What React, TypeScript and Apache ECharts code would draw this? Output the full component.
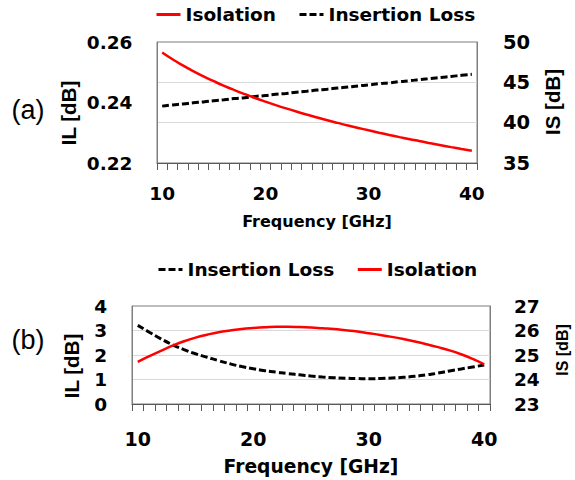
import React, { useEffect, useRef } from "react";
import * as echarts from "echarts";

const frequencies = [
  "10", "11", "12", "13", "14", "15", "16", "17", "18", "19", "20",
  "21", "22", "23", "24", "25", "26", "27", "28", "29", "30",
  "31", "32", "33", "34", "35", "36", "37", "38", "39", "40",
];
const xTickLabels = ["10", "20", "30", "40"];

// (a) Isolation [dB], right axis
const isolationA = [
  48.7, 47.86, 47.1, 46.39, 45.74, 45.14, 44.57, 44.04, 43.54, 43.06, 42.61,
  42.18, 41.77, 41.38, 41.01, 40.65, 40.3, 39.97, 39.65, 39.35, 39.05,
  38.76, 38.48, 38.21, 37.95, 37.69, 37.45, 37.21, 36.97, 36.74, 36.52,
];
// (a) Insertion loss [dB], left axis
const insertionLossA = [
  0.2388, 0.2392, 0.2395, 0.2399, 0.2402, 0.2406, 0.2409, 0.2413, 0.2416, 0.242, 0.2423,
  0.2427, 0.243, 0.2434, 0.2437, 0.2441, 0.2444, 0.2448, 0.2451, 0.2455, 0.2458,
  0.2462, 0.2465, 0.2469, 0.2472, 0.2476, 0.2479, 0.2483, 0.2486, 0.249, 0.2493,
];
// (b) Insertion loss [dB], left axis
const insertionLossB = [
  3.21, 2.93, 2.66, 2.42, 2.22, 2.05, 1.91, 1.77, 1.64, 1.53, 1.44,
  1.36, 1.3, 1.24, 1.19, 1.14, 1.1, 1.07, 1.05, 1.04, 1.03,
  1.04, 1.06, 1.09, 1.13, 1.19, 1.26, 1.35, 1.43, 1.51, 1.59,
];
// (b) Isolation [dB], right axis
const isolationB = [
  24.72, 24.95, 25.17, 25.38, 25.56, 25.71, 25.83, 25.93, 26.0, 26.06, 26.1,
  26.13, 26.15, 26.15, 26.14, 26.12, 26.09, 26.06, 26.01, 25.96, 25.89,
  25.82, 25.74, 25.65, 25.55, 25.44, 25.32, 25.19, 25.03, 24.84, 24.62,
];

const FONT = "DejaVu Sans";
const NAME_FONT = "Liberation Sans";
const AXIS_COLOR = "#7f7f7f";
const TICK_COLOR = "#595959";
const GRID_COLOR = "#d9d9d9";

export default function App() {
  const ref = useRef<HTMLDivElement>(null);

  useEffect(() => {
    if (!ref.current) return;
    const chart = echarts.init(ref.current, null, { renderer: "svg" });

    const labelStyle = (size: number, margin: number) => ({
      fontFamily: FONT,
      fontWeight: "bold" as const,
      fontSize: size,
      color: "#000",
      margin,
    });

    const xAxisBase = (gridIndex: number, labelSize: number, margin: number, nameSize: number, nameGap: number) => ({
      type: "category" as const,
      gridIndex,
      position: "bottom" as const,
      data: frequencies,
      boundaryGap: true,
      axisLine: { show: true, lineStyle: { color: TICK_COLOR, width: 1 } },
      axisTick: { show: true, interval: 0, length: 7, lineStyle: { color: TICK_COLOR, width: 1 } },
      axisLabel: {
        ...labelStyle(labelSize, margin),
        interval: (_i: number, v: string) => xTickLabels.includes(v),
      },
      splitLine: { show: false },
      name: "Frequency [GHz]",
      nameLocation: "middle" as const,
      nameGap,
      nameTextStyle: { fontFamily: FONT, fontWeight: "bold" as const, fontSize: nameSize, color: "#000" },
    });

    // tick strip under each plot: a thin grid whose split lines mark every category boundary
    const tickStripAxis = (gridIndex: number) => ({
      type: "value" as const,
      gridIndex,
      position: "bottom" as const,
      min: 0,
      max: frequencies.length,
      interval: 1,
      axisLine: { show: false },
      axisTick: { show: false },
      axisLabel: { show: false },
      splitLine: { show: true, lineStyle: { color: TICK_COLOR, width: 1 } },
    });
    const tickStripY = (gridIndex: number) => ({
      type: "value" as const,
      gridIndex,
      show: false,
      min: 0,
      max: 1,
    });

    const legendText = { fontFamily: FONT, fontWeight: "bold" as const, fontSize: 18.5, color: "#000" };
    const legendBase = {
      padding: 0,
      itemWidth: 24,
      itemHeight: 14,
      itemGap: 22,
      textStyle: legendText,
      lineStyle: { width: 3 },
      itemStyle: { opacity: 0 },
      selectedMode: false as const,
    };

    const nameText = (text: string, x: number, y: number, size: number) => ({
      type: "text" as const,
      x,
      y,
      rotation: Math.PI / 2,
      style: {
        text,
        fontFamily: NAME_FONT,
        fontWeight: "bold",
        fontSize: size,
        fill: "#000",
        textAlign: "center",
        textVerticalAlign: "middle",
      },
    });

    const option: echarts.EChartsOption = {
      animation: false,
      backgroundColor: "#fff",
      grid: [
        { left: 157, top: 42, width: 320, height: 121, show: true, borderColor: AXIS_COLOR, borderWidth: 1, containLabel: false },
        { left: 132, top: 306, width: 358, height: 98, show: true, borderColor: AXIS_COLOR, borderWidth: 1, containLabel: false },
        { left: 157, top: 163, width: 320, height: 7, show: false, containLabel: false },
        { left: 132, top: 404, width: 358, height: 7, show: false, containLabel: false },
      ],
      legend: [
        { ...legendBase, data: ["Isolation", "Insertion Loss"], left: 155, top: 5 },
        { ...legendBase, data: ["Insertion Loss", "Isolation"], left: 157, top: 260 },
      ],
      xAxis: [
        xAxisBase(0, 18.5, 21, 16, 50.5),
        xAxisBase(1, 19, 25, 18.7, 53),
        tickStripAxis(2),
        tickStripAxis(3),
      ],
      yAxis: [
        {
          type: "value",
          gridIndex: 0,
          position: "left",
          min: 0.22,
          max: 0.26,
          interval: 0.02,
          axisLine: { show: true, lineStyle: { color: AXIS_COLOR } },
          axisTick: { show: false },
          splitLine: { show: false },
          axisLabel: { ...labelStyle(18.5, 24.5), formatter: (v: number) => v.toFixed(2) },
        },
        {
          type: "value",
          gridIndex: 0,
          position: "right",
          min: 35,
          max: 50,
          interval: 5,
          axisLine: { show: true, lineStyle: { color: AXIS_COLOR } },
          axisTick: { show: false },
          splitLine: { show: true, showMinLine: false, showMaxLine: false, lineStyle: { color: GRID_COLOR, width: 1 } },
          axisLabel: labelStyle(19.5, 26),
        },
        {
          type: "value",
          gridIndex: 1,
          position: "left",
          min: 0,
          max: 4,
          interval: 1,
          axisLine: { show: true, lineStyle: { color: AXIS_COLOR } },
          axisTick: { show: false },
          splitLine: { show: true, showMinLine: false, showMaxLine: false, lineStyle: { color: GRID_COLOR, width: 1 } },
          axisLabel: labelStyle(18.5, 25),
        },
        {
          type: "value",
          gridIndex: 1,
          position: "right",
          min: 23,
          max: 27,
          interval: 1,
          axisLine: { show: true, lineStyle: { color: AXIS_COLOR } },
          axisTick: { show: false },
          splitLine: { show: false },
          axisLabel: labelStyle(18.5, 24),
        },
        tickStripY(2),
        tickStripY(3),
      ],
      series: [
        {
          name: "Insertion Loss",
          type: "line",
          xAxisIndex: 0,
          yAxisIndex: 0,
          data: insertionLossA,
          symbol: "none",
          smooth: true,
          lineStyle: { color: "#000", width: 3, type: [7, 3] },
          itemStyle: { color: "#000" },
        },
        {
          name: "Isolation",
          type: "line",
          xAxisIndex: 0,
          yAxisIndex: 1,
          data: isolationA,
          symbol: "none",
          smooth: true,
          lineStyle: { color: "#ff0000", width: 2.5 },
          itemStyle: { color: "#ff0000" },
        },
        {
          name: "Insertion Loss",
          type: "line",
          xAxisIndex: 1,
          yAxisIndex: 2,
          data: insertionLossB,
          symbol: "none",
          smooth: true,
          lineStyle: { color: "#000", width: 3, type: [7, 3] },
          itemStyle: { color: "#000" },
        },
        {
          name: "Isolation",
          type: "line",
          xAxisIndex: 1,
          yAxisIndex: 3,
          data: isolationB,
          symbol: "none",
          smooth: true,
          lineStyle: { color: "#ff0000", width: 2.5 },
          itemStyle: { color: "#ff0000" },
        },
      ],
      graphic: [
        {
          type: "text",
          x: 28,
          y: 110,
          style: { text: "(a)", fontFamily: NAME_FONT, fontSize: 27, fill: "#000", textAlign: "center", textVerticalAlign: "middle" },
        },
        {
          type: "text",
          x: 28,
          y: 340,
          style: { text: "(b)", fontFamily: NAME_FONT, fontSize: 27, fill: "#000", textAlign: "center", textVerticalAlign: "middle" },
        },
        nameText("IL [dB]", 68, 113, 20.5),
        nameText("IS [dB]", 552, 102, 20.5),
        nameText("IL [dB]", 71, 366, 20.5),
        nameText("IS [dB]", 562, 350, 16),
      ],
    };

    chart.setOption(option);
    return () => chart.dispose();
  }, []);

  return <div ref={ref} style={{ position: "fixed", left: 0, top: 0, width: 575, height: 480 }} />;
}
